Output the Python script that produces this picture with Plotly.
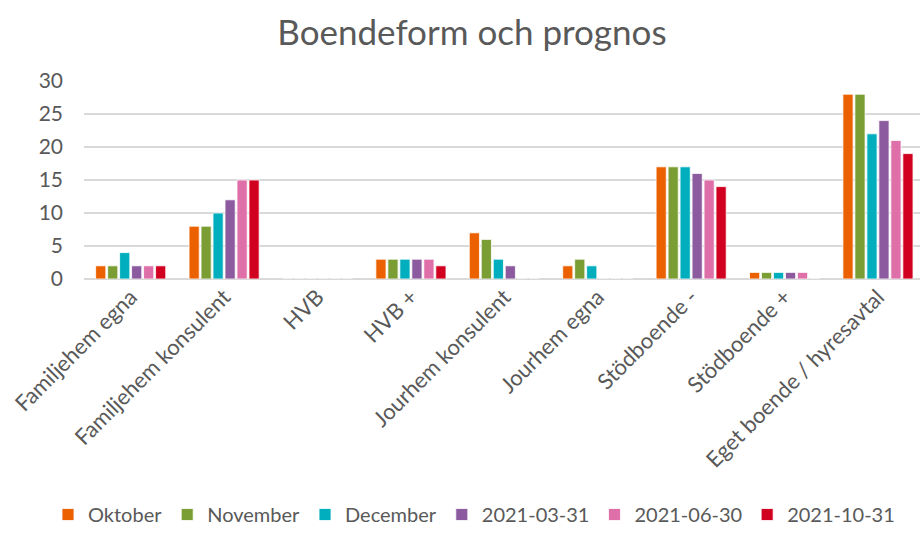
import plotly.graph_objects as go

categories = ["Familjehem egna", "Familjehem konsulent", "HVB", "HVB +", "Jourhem konsulent",
              "Jourhem egna", "Stödboende -", "Stödboende +", "Eget boende / hyresavtal"]
series_names = ["Oktober", "November", "December", "2021-03-31", "2021-06-30", "2021-10-31"]
oktober = [2, 8, 0, 3, 7, 2, 17, 1, 28]
november = [2, 8, 0, 3, 6, 3, 17, 1, 28]
december = [4, 10, 0, 3, 3, 2, 17, 1, 22]
d_2021_03_31 = [2, 12, 0, 3, 2, 0, 16, 1, 24]
d_2021_06_30 = [2, 15, 0, 3, 0, 0, 15, 1, 21]
d_2021_10_31 = [2, 15, 0, 2, 0, 0, 14, 0, 19]
y_ticks = [0, 5, 10, 15, 20, 25, 30]

series_values = [oktober, november, december, d_2021_03_31, d_2021_06_30, d_2021_10_31]
colors = ["#EB6100", "#7A9E34", "#00AEBD", "#8C5A9F", "#DE6FA8", "#D10020"]

FONT = "Lato"
GREY = "#595959"

fig = go.Figure()
for name, vals, c in zip(series_names, series_values, colors):
    fig.add_trace(go.Bar(
        name=name, x=categories, y=vals,
        marker=dict(color=c, line=dict(color="white", width=0.8)),
    ))

fig.update_layout(
    width=920, height=535,
    barmode="group", bargap=0.23, bargroupgap=0.15,
    plot_bgcolor="white", paper_bgcolor="white",
    margin=dict(l=84, r=0, t=81, b=256),
    title=dict(text="Boendeform och prognos", x=0.513, xanchor="center",
               y=1 - 33 / 535, yanchor="middle",
               font=dict(family=FONT, size=35, color=GREY)),
    font=dict(family=FONT, color=GREY),
    xaxis=dict(range=[-0.5, 8.45], tickangle=-45, tickfont=dict(size=22, color=GREY),
               showline=False, showgrid=False, ticks="", automargin=False),
    yaxis=dict(range=[0, 30], tickvals=y_ticks, tickfont=dict(size=21, color=GREY),
               showgrid=True, gridcolor="#D9D9D9", gridwidth=1.5, zeroline=True,
               zerolinecolor="#D9D9D9", zerolinewidth=1.5, ticks="", ticklabelstandoff=20,
               automargin=False),
    legend=dict(orientation="h", xref="paper", yref="paper",
                x=(48 - 84) / 836, xanchor="left", y=-(534 - 279) / 198,
                yanchor="bottom", font=dict(size=20, color=GREY),
                itemwidth=30, tracegroupgap=0, traceorder="normal"),
    showlegend=True,
)

fig.write_html("out.html", config={"displayModeBar": False},
               post_script="document.body.style.margin='0';")
